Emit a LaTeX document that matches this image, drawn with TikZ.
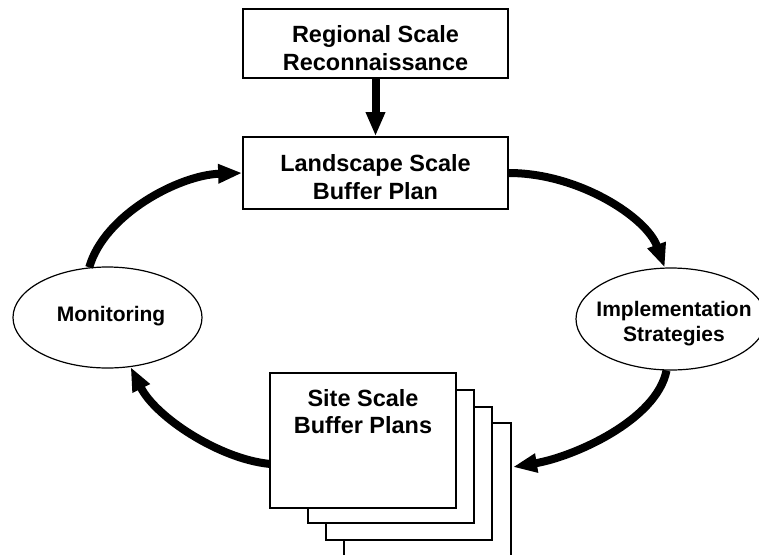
\documentclass[tikz,border=0pt]{standalone}
\usepackage{fontspec}
\setmainfont{Liberation Sans}
\usetikzlibrary{shapes.geometric,arrows.meta,calc}
\begin{document}
\begin{tikzpicture}[x=0.75pt,y=-0.75pt,
  box/.style={draw, line width=1.25pt, minimum width=198.75pt, inner sep=0pt},
  boxtext/.style={inner sep=0pt, align=center, font=\bfseries\fontsize{17.6pt}{20.6pt}\selectfont},
  oval/.style={ellipse, draw, line width=0.9pt, inner sep=0pt},
  ovaltext/.style={inner sep=0pt, align=center, font=\bfseries\fontsize{15.75pt}{18.75pt}\selectfont},
  page/.style={draw, line width=1.1pt, fill=white, inner sep=0pt},
  flow/.style={line width=6pt, -{Triangle[length=18pt,width=13.5pt]}},
]
\useasboundingbox (0,0) rectangle (759,554);
% boxes
\node[box, minimum height=51.75pt] (reg) at (375.5,43.5) {};
\node[boxtext] (regtext) at (375.5,48) {Regional Scale\\Reconnaissance};
\node[box, minimum height=54pt] (land) at (375.5,173) {};
\node[boxtext] (landtext) at (375.5,177) {Landscape Scale\\Buffer Plan};
% ellipses
\node[oval, minimum width=141.75pt, minimum height=75.75pt] (mon) at (107.5,317.5) {};
\node[ovaltext] (montext) at (111,316.5) {Monitoring};
\node[oval, minimum width=142.5pt, minimum height=76.5pt] (impl) at (671,319) {};
\node[ovaltext] (impltext) at (674,324) {Implementation\\Strategies};
% stacked pages
\draw[page] (344,556) -- (344,423) -- (511,423) -- (511,556);
\node[page, minimum width=124.5pt, minimum height=99.75pt] (p3) at (409,473.5) {};
\node[page, minimum width=124.5pt, minimum height=99.75pt] (p2) at (391,456.5) {};
\node[page, minimum width=139.5pt, minimum height=101.25pt] (site) at (363,440.5) {};
\node[boxtext, anchor=north] (sitetext) at (363,389) {Site Scale\\Buffer Plans};
\coordinate (p4in) at (513,467);
% connectors
\draw[flow] (reg.south) -- (land.north);
\draw[flow] (land.east) .. controls +(70,0) and +(-18,-50) .. (impl.97);
\draw[flow] (impl.-95) .. controls +(-10,50) and +(60,-10) .. (p4in);
\draw[flow] (site.194) .. controls +(-50,-5) and +(25,50) .. (mon.-65);
\draw[flow] (mon.110) .. controls +(15,-53) and +(-63,2) .. (land.west);
\end{tikzpicture}
\end{document}
